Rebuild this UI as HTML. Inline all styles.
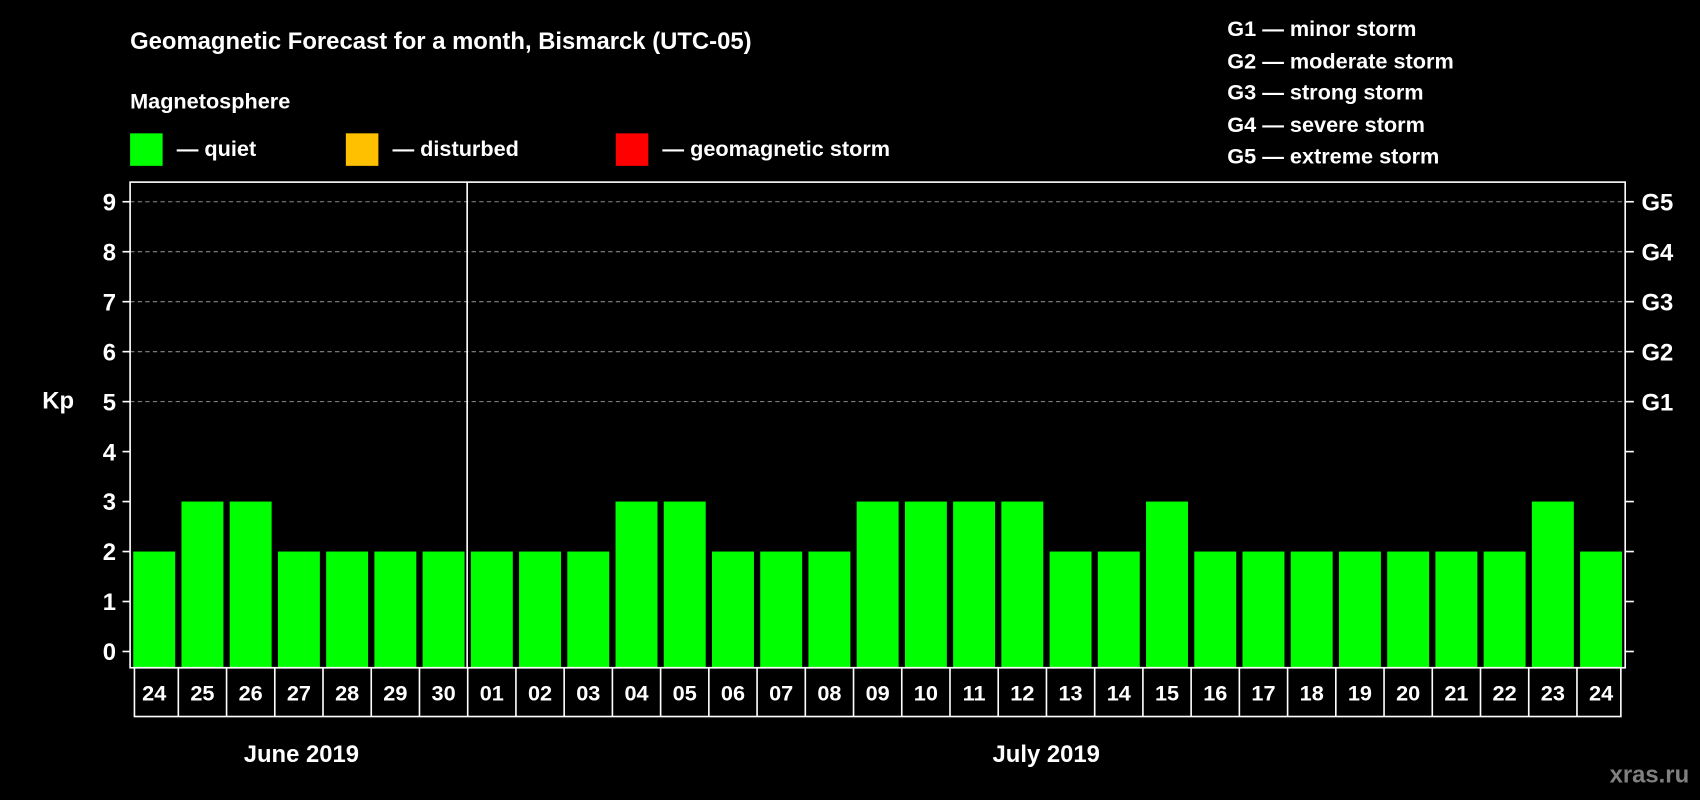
<!DOCTYPE html>
<html><head><meta charset="utf-8"><style>
html,body{margin:0;padding:0;background:#000;}
svg{display:block;font-family:"Liberation Sans",Arial,sans-serif;font-weight:bold;}
</style></head><body>
<svg id="chart" width="1700" height="800" viewBox="0 0 1568 738" preserveAspectRatio="none" xmlns="http://www.w3.org/2000/svg">
<rect x="0" y="0" width="1568" height="738" fill="#000"/>
<text x="120" y="45" fill="#fff" font-size="22">Geomagnetic Forecast for a month, Bismarck (UTC-05)</text>
<text x="120" y="100" fill="#fff" font-size="20">Magnetosphere</text>
<g><rect x="120" y="123" width="30" height="30" fill="#00ff00"/><text x="163" y="144" fill="#fff" font-size="20">— quiet</text></g>
<g><rect x="319" y="123" width="30" height="30" fill="#ffc000"/><text x="362" y="144" fill="#fff" font-size="20">— disturbed</text></g>
<g><rect x="568" y="123" width="30" height="30" fill="#ff0000"/><text x="611" y="144" fill="#fff" font-size="20">— geomagnetic storm</text></g>
<g fill="#fff" font-size="20">
<text x="1132" y="33">G1 — minor storm</text>
<text x="1132" y="63">G2 — moderate storm</text>
<text x="1132" y="92">G3 — strong storm</text>
<text x="1132" y="122">G4 — severe storm</text>
<text x="1132" y="151">G5 — extreme storm</text>
</g>
<text x="39" y="377" fill="#fff" font-size="22">Kp</text>
<g id="grid"></g>
<g id="bars"></g>
<g id="axes"></g>
<g id="xcells"></g>
<text x="278" y="703" fill="#fff" font-size="22" text-anchor="middle">June 2019</text>
<text x="965" y="703" fill="#fff" font-size="22" text-anchor="middle">July 2019</text>
<text x="1558" y="722" fill="#808080" font-size="22" text-anchor="end">xras.ru</text>
</svg>
<script>
const days = ["24","25","26","27","28","29","30","01","02","03","04","05","06","07","08","09","10","11","12","13","14","15","16","17","18","19","20","21","22","23","24"];
const kpValues = [2,3,3,2,2,2,2,2,2,2,3,3,2,2,2,3,3,3,3,2,2,3,2,2,2,2,2,2,2,3,2];
const yTicks = [0,1,2,3,4,5,6,7,8,9];
const gLabels = ["G1","G2","G3","G4","G5"];
const gLevels = [5,6,7,8,9];
const NS = "http://www.w3.org/2000/svg";
const L = 120, R = 1499, T = 168, B = 616, Y0 = 601, UNIT = 46.1;
const slot = (R - L) / days.length;
function y(v){ return Y0 - v * UNIT; }
function x(i){ return L + i * slot; }
function mk(tag, attrs, parent){ const e = document.createElementNS(NS, tag); for (const k in attrs) e.setAttribute(k, attrs[k]); parent.appendChild(e); return e; }
const grid = document.getElementById("grid"), bars = document.getElementById("bars"), axes = document.getElementById("axes"), cells = document.getElementById("xcells");
gLevels.forEach(function(v){
  const ln = mk("line", {x1:L, x2:R, y1:y(v), y2:y(v), stroke:"#888", "stroke-width":1, "stroke-dasharray":"4,3"}, grid);
  
  
});
kpValues.forEach(function(v, i){
  const r = mk("rect", {x:x(i)+2.9, y:y(v), width:slot-5.8, height:B-y(v), fill:"#00ff00"}, bars);
  
  
});
const frame = mk("rect", {x:L, y:T, width:R-L, height:B-T, fill:"none", stroke:"#fff", "stroke-width":1.5}, axes);


const div = mk("line", {x1:x(7)-0.5, x2:x(7)-0.5, y1:T, y2:B, stroke:"#fff", "stroke-width":1.5}, axes);


yTicks.forEach(function(v){
  mk("line", {x1:L-7, x2:L, y1:y(v), y2:y(v), stroke:"#fff", "stroke-width":1.5}, axes);
  mk("line", {x1:R, x2:R+8, y1:y(v), y2:y(v), stroke:"#fff", "stroke-width":1.5}, axes);
  const t = mk("text", {x:L-13, y:y(v)+8, fill:"#fff", "font-size":22, "text-anchor":"end"}, axes);
  
  
  t.textContent = v;
});
gLabels.forEach(function(g, i){
  const t = mk("text", {x:R+15, y:y(gLevels[i])+8, fill:"#fff", "font-size":22}, axes);
  
  
  t.textContent = g;
});
mk("rect", {x:L+4, y:B, width:R-L-8, height:45, fill:"none", stroke:"#fff", "stroke-width":1.5}, cells);
days.forEach(function(d, i){
  if (i > 0) mk("line", {x1:x(i), x2:x(i), y1:B, y2:B+45, stroke:"#fff", "stroke-width":1.5}, cells);
  const t = mk("text", {x:x(i)+slot/2, y:B+30, fill:"#fff", "font-size":20, "text-anchor":"middle"}, cells);
  
  
  t.textContent = d;
});
</script>
</body></html>
